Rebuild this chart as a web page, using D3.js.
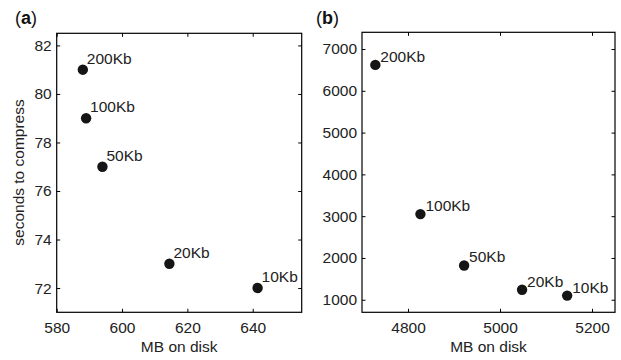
<!DOCTYPE html>
<html>
<head>
<meta charset="utf-8">
<script src="https://cdn.jsdelivr.net/npm/d3@7"></script>
<style>
  body { margin: 0; background: #fff; }
  svg { font-family: "Liberation Sans", Arial, sans-serif; }
  .tick text { font-size: 15.5px; fill: #222; }
  .tick line { stroke: #000; }
</style>
</head>
<body>
<div id="chart"></div>
<script>
// Data
const labels = ["200Kb", "100Kb", "50Kb", "20Kb", "10Kb"];

// panel (a): small corpus
const diskA = [588, 589, 594, 614.5, 641.5];
const secondsA = [81, 79, 77, 73, 72];
const xTicksA = [580, 600, 620, 640];
const yTicksA = [72, 74, 76, 78, 80, 82];

// panel (b): large corpus
const diskB = [4729, 4827, 4922, 5048, 5146];
const secondsB = [6620, 3050, 1820, 1240, 1100];
const xTicksB = [4800, 5000, 5200];
const yTicksB = [1000, 2000, 3000, 4000, 5000, 6000, 7000];

const svg = d3.select("#chart")
    .append("svg")
    .attr("width", 621)
    .attr("height", 360);

const fmt = d3.format("d");

function panel(opts) {
    const { left, top, width, height, xDomain, yDomain, xs, ys, xTicks, yTicks, tag, lab } = opts;

    const g = svg.append("g")
        .attr("transform", `translate(${left},${top})`);

    const x = d3.scaleLinear().domain(xDomain).range([0, width]);
    const y = d3.scaleLinear().domain(yDomain).range([height, 0]);

    const tk = 3.5;

    // bottom + left axes with labels, ticks pointing inward
    g.append("g")
        .attr("transform", `translate(0,${height})`)
        .call(d3.axisBottom(x).tickValues(xTicks).tickFormat(fmt).tickSizeInner(-tk).tickSizeOuter(0).tickPadding(9.5))
        .call(a => a.select(".domain").remove());

    g.append("g")
        .call(d3.axisLeft(y).tickValues(yTicks).tickFormat(fmt).tickSizeInner(-tk).tickSizeOuter(0).tickPadding(5))
        .call(a => a.select(".domain").remove());

    // top + right axes, ticks only
    g.append("g")
        .call(d3.axisTop(x).tickValues(xTicks).tickSizeInner(-tk).tickSizeOuter(0).tickFormat(""))
        .call(a => a.select(".domain").remove());

    g.append("g")
        .attr("transform", `translate(${width},0)`)
        .call(d3.axisRight(y).tickValues(yTicks).tickSizeInner(-tk).tickSizeOuter(0).tickFormat(""))
        .call(a => a.select(".domain").remove());

    // frame
    g.append("rect")
        .attr("width", width)
        .attr("height", height)
        .attr("fill", "none")
        .attr("stroke", "#000")
        .attr("stroke-width", 1.2);

    const pts = labels.map((l, i) => ({ label: l, x: xs[i], y: ys[i] }));

    g.selectAll(".dot")
        .data(pts)
        .enter()
        .append("circle")
        .attr("class", "dot")
        .attr("cx", d => x(d.x))
        .attr("cy", d => y(d.y))
        .attr("r", 5.2)
        .attr("fill", "#151515");

    g.selectAll(".lbl")
        .data(pts)
        .enter()
        .append("text")
        .attr("class", "lbl")
        .attr("x", d => x(d.x) + lab[0])
        .attr("y", d => y(d.y) + lab[1])
        .attr("font-size", "15.5px")
        .attr("fill", "#222")
        .text(d => d.label);

    // x axis title
    g.append("text")
        .attr("x", width / 2)
        .attr("y", height + 39.5)
        .attr("text-anchor", "middle")
        .attr("font-size", "15.5px")
        .attr("fill", "#222")
        .text("MB on disk");

    // panel tag like (a)
    const t = svg.append("text")
        .attr("x", tag[1])
        .attr("y", 23.5)
        .attr("font-size", "18px")
        .attr("fill", "#111");
    t.append("tspan").text("(");
    t.append("tspan").attr("font-weight", "bold").text(tag[0]);
    t.append("tspan").text(")");

    return g;
}

panel({
    left: 56.7, top: 33.3, width: 245, height: 279,
    xDomain: [580, 655], yDomain: [71, 82.5],
    xs: diskA, ys: secondsA,
    xTicks: xTicksA, yTicks: yTicksA,
    tag: ["a", 15], lab: [4, -6]
});

panel({
    left: 362, top: 32.3, width: 253, height: 280,
    xDomain: [4700, 5250], yDomain: [700, 7400],
    xs: diskB, ys: secondsB,
    xTicks: xTicksB, yTicks: yTicksB,
    tag: ["b", 316], lab: [5, -3]
});

// Y-axis label (panel a)
svg.append("text")
    .attr("transform", "translate(23.5,172.5) rotate(-90)")
    .attr("text-anchor", "middle")
    .attr("font-size", "15.5px")
    .attr("fill", "#222")
    .text("seconds to compress");
</script>
</body>
</html>
